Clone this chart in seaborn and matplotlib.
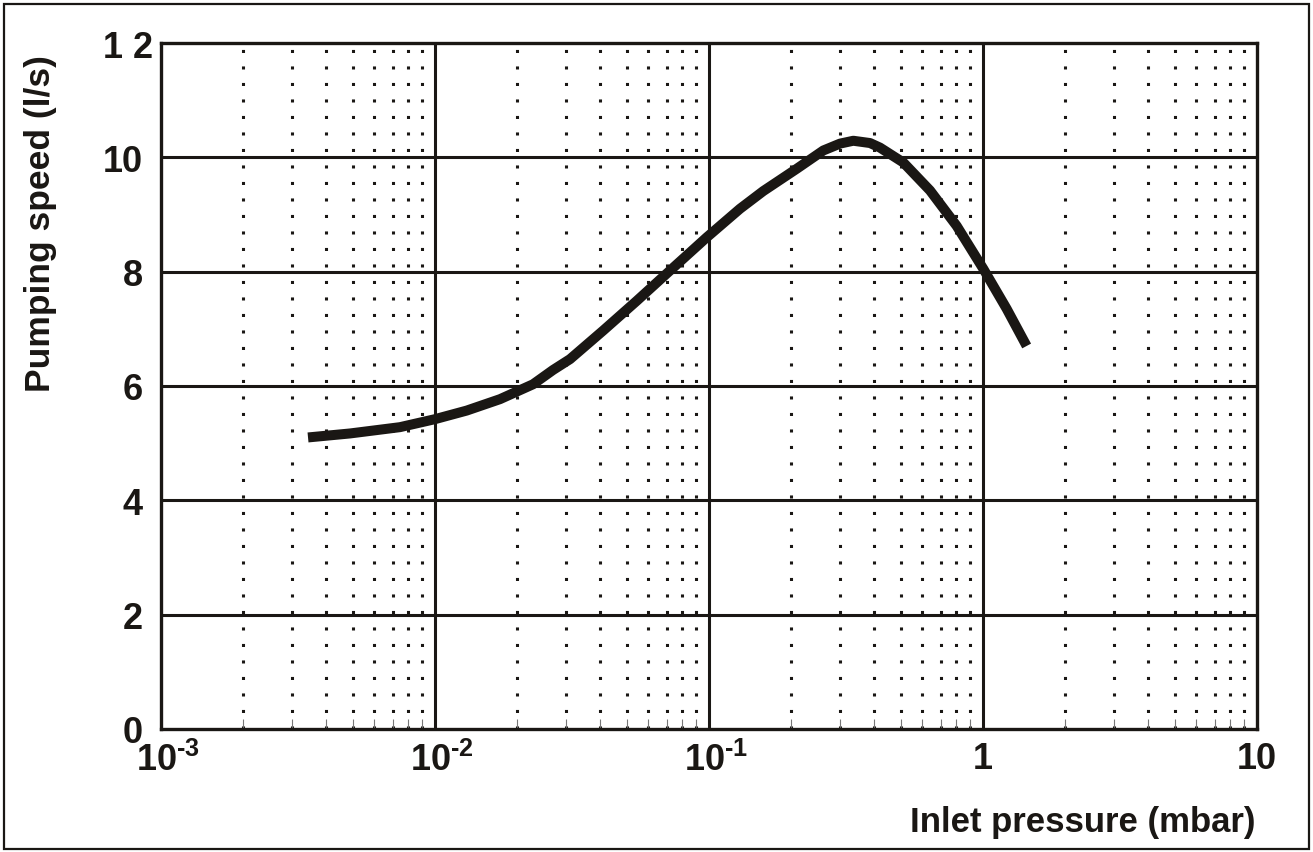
import numpy as np
import pandas as pd
import seaborn as sns
from matplotlib import pyplot as plt
from matplotlib import ticker
from matplotlib.patches import Rectangle
from matplotlib.transforms import ScaledTranslation

# Curve (inlet pressure in mbar, pumping speed in l/s)
pressure = [0.00344, 0.00490, 0.00745, 0.0100, 0.01305, 0.01727, 0.02279, 0.02696,
            0.0311, 0.0411, 0.0545, 0.0721, 0.0981, 0.1297, 0.1578, 0.209,
            0.2614, 0.3007, 0.3362, 0.387, 0.4208, 0.5118, 0.6406, 0.8017,
            1.0025, 1.220, 1.443]
speed = [5.10, 5.17, 5.28, 5.42, 5.57, 5.77, 6.03, 6.28,
         6.47, 6.97, 7.49, 8.02, 8.60, 9.10, 9.41, 9.80,
         10.12, 10.24, 10.29, 10.25, 10.17, 9.91, 9.42, 8.80,
         8.05, 7.35, 6.70]

y_ticks = [0, 2, 4, 6, 8, 10, 12]
y_labels = ['0', '2', '4', '6', '8', '10', '1 2']
x_ticks = [1e-3, 1e-2, 1e-1, 1, 10]
x_labels = [r'$10^{\text{-3}}$', r'$10^{\text{-2}}$', r'$10^{\text{-1}}$', '1', '10']

df = pd.DataFrame({'pressure': pressure, 'speed': speed})

sns.set_style('white')
plt.rcParams['font.family'] = ['Liberation Sans', 'DejaVu Sans']
plt.rcParams['font.weight'] = 'bold'
plt.rcParams['mathtext.fontset'] = 'custom'
plt.rcParams['mathtext.rm'] = 'Liberation Sans:bold'
plt.rcParams['mathtext.it'] = 'Liberation Sans:bold'
plt.rcParams['mathtext.bf'] = 'Liberation Sans:bold'
plt.rcParams['mathtext.default'] = 'bf'

ink = '#1a1714'

fig = plt.figure(figsize=(13.13, 8.53), dpi=100)
ax = fig.add_axes([161 / 1313, 1 - 730 / 853, (1257 - 161) / 1313, (730 - 44) / 853])

sns.lineplot(data=df, x='pressure', y='speed', color=ink, linewidth=7.2,
             solid_capstyle='butt', solid_joinstyle='round', ax=ax)

ax.set_xscale('log')
ax.set_xlim(1e-3, 10)
ax.set_ylim(0, 12)

# major grid: solid black
for v in y_ticks[1:-1]:
    ax.axhline(v, color=ink, linewidth=2.2, zorder=1)
for v in x_ticks[1:-1]:
    ax.axvline(v, color=ink, linewidth=2.2, zorder=1)

# minor grid: dotted verticals at 2..9 of each decade
ax.xaxis.set_minor_locator(ticker.LogLocator(base=10, subs=np.arange(2, 10), numticks=20))
ax.xaxis.set_minor_formatter(ticker.NullFormatter())
ax.grid(which='minor', axis='x', color=ink, linewidth=2.2,
        linestyle=(0, (1, 4.4)), zorder=0)
ax.grid(which='major', visible=False)

ax.set_xticks(x_ticks)
ax.set_xticklabels(x_labels)
ax.set_yticks(y_ticks)
ax.set_yticklabels(y_labels)
ax.tick_params(axis='both', which='major', length=0, labelsize=26,
               labelcolor=ink)
ax.tick_params(axis='x', which='major', pad=9)
ax.tick_params(axis='y', which='major', pad=13)
ax.tick_params(axis='x', which='minor', direction='in', length=7, width=0.8,
               color='#777777', bottom=True, top=False)

# the powers of ten are centred on their "10", not on the whole label
for lab in ax.get_xticklabels()[:3]:
    lab.set_transform(lab.get_transform() + ScaledTranslation(0.07, 0, fig.dpi_scale_trans))
top_lab = ax.get_yticklabels()[-1]
top_lab.set_transform(top_lab.get_transform() + ScaledTranslation(0.10, 0, fig.dpi_scale_trans))

for s in ax.spines.values():
    s.set_visible(True)
    s.set_color(ink)
    s.set_linewidth(2.4)

ax.set_xlabel('')
ax.set_ylabel('')
fig.text(1255 / 1313, 1 - 832 / 853, 'Inlet pressure (mbar)', ha='right', va='baseline',
         fontsize=25, fontweight='bold', color=ink)
fig.text(41 / 1313, 1 - 224 / 853, 'Pumping speed (l/s)', ha='center', va='center',
         rotation=90, fontsize=25.5, fontweight='bold', color=ink)

# outer frame around the whole picture
fig.patches.append(Rectangle((4 / 1313, 3 / 853), 1305 / 1313, 845 / 853,
                             transform=fig.transFigure, fill=False,
                             edgecolor=ink, linewidth=1.6))

fig.savefig('out.png', dpi=100)
